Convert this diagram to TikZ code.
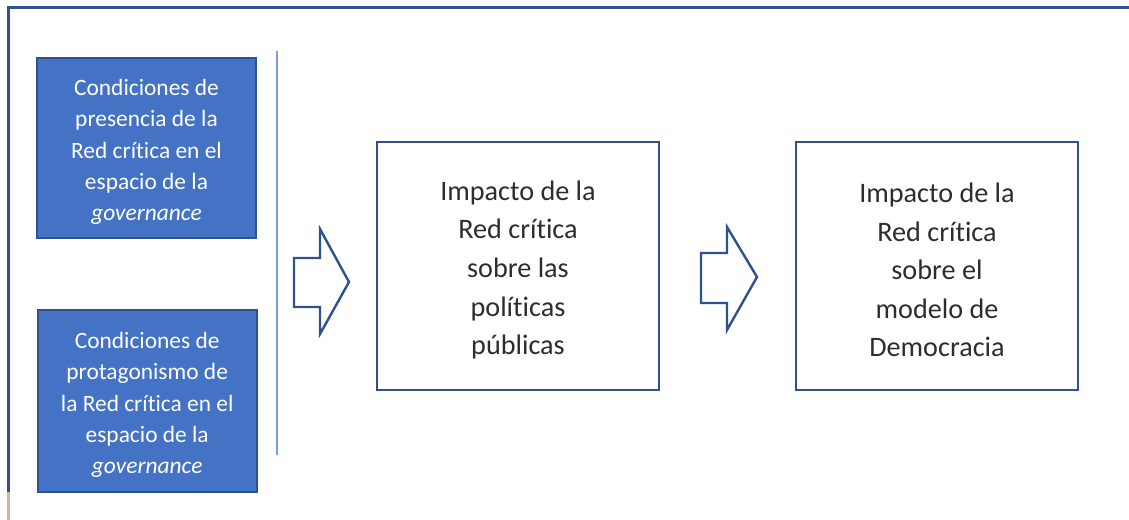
\documentclass[tikz,border=0pt]{standalone}
\usepackage{fontspec}
\setmainfont[Ligatures=NoCommon]{Carlito}
\usepackage{tikz}
\usetikzlibrary{positioning}

\definecolor{boxblue}{RGB}{68,114,196}
\definecolor{edgeblue}{RGB}{47,82,143}
\definecolor{lineblue}{RGB}{125,155,222}
\definecolor{frametan}{RGB}{214,180,140}
\definecolor{textgray}{RGB}{45,45,45}

\tikzset{
    condbox/.style={draw=edgeblue, line width=2bp, fill=boxblue, text=white,
        minimum width=218bp, minimum height=180bp, align=center, inner sep=0pt,
        font=\fontsize{23.5}{31.3}\selectfont},
    impbox/.style={draw=edgeblue, line width=2.4bp, fill=white, text=textgray,
        minimum width=282bp, minimum height=248bp, align=center, inner sep=0pt,
        font=\fontsize{28.3}{38.7}\selectfont},
    blockarrow/.style={draw=edgeblue, line width=2.4bp, line join=miter, fill=white}
}

\begin{document}
\begin{tikzpicture}[x=1bp, y=-1bp]
        \useasboundingbox (0,0) rectangle (1129,520);
        % frame
        \coordinate (F1) at (1129,8);
        \coordinate (F2) at (8,8);
        \coordinate (F3) at (8,492);
        \coordinate (F4) at (8,520);
        \draw[edgeblue, line width=3bp] (F1) -- (F2) -- (F3);
        \draw[frametan, line width=3bp] (F3) -- (F4);
        % separator
        \coordinate (S1) at (277,51);
        \coordinate (S2) at (277,455);
        \draw[lineblue, line width=2bp] (S1) -- (S2);
        % boxes
        \node[condbox] (presencia) at (146.5,148) {\\[-7bp]Condiciones de\\presencia de la\\Red crítica en el\\espacio de la\\\textit{governance}};
        \node[condbox, minimum width=219bp, minimum height=182bp] (protagonismo) at (147.2,401) {\\[-7bp]Condiciones de\\protagonismo de\\la Red crítica en el\\espacio de la\\\textit{governance}};
        \node[impbox] (politicas) at (518,266) {\\[-11bp]Impacto de la\\Red crítica\\sobre las\\políticas\\públicas};
        \node[impbox] (democracia) at (937,266) {\\[-11bp]Impacto de la\\Red crítica\\sobre el\\modelo de\\Democracia};
        % block arrows
        \draw[blockarrow] (294,258) -- (320,258) -- (320,229) -- (349,282) -- (320,334) -- (320,307) -- (294,307) -- cycle;
        \draw[blockarrow] (701,253) -- (727,253) -- (727,227) -- (757,277) -- (727,330) -- (727,303) -- (701,303) -- cycle;
    \end{tikzpicture}
\end{document}
